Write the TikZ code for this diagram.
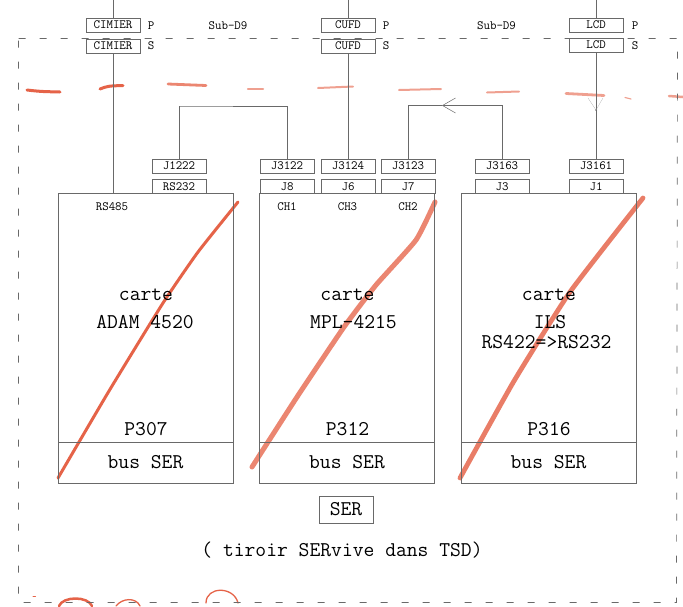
\documentclass[tikz,border=0pt]{standalone}
\usepackage{tikz}
\usetikzlibrary{arrows,arrows.meta,positioning}
\definecolor{pen}{RGB}{226,82,52}
\definecolor{trait}{RGB}{105,105,105}
\newcommand{\petit}{\fontsize{12.6}{14}\selectfont\ttfamily}
\newcommand{\grand}{\fontsize{21}{27}\selectfont\ttfamily}
\tikzset{conn/.style={rectangle,draw=trait,font=\petit,inner sep=0pt,minimum width=54pt,minimum height=14pt},
         lab/.style={font=\petit,inner sep=0pt,text=black},
         txt/.style={font=\grand,inner sep=0pt,text=black},
         carte/.style={rectangle,draw=trait,inner sep=0pt,minimum width=175pt,minimum height=249pt},
         bus/.style={rectangle,draw=trait,font=\grand,inner sep=0pt,minimum width=175pt,minimum height=41pt,text=black},
         fil/.style={draw=trait,line width=0.6pt},
         cadre/.style={draw=trait,line width=0.7pt,dash pattern=on 7pt off 14pt},
         stylo/.style={pen,line cap=round,opacity=0.9},
         trace/.style={pen,line cap=round,line width=2pt,opacity=0.55}
}
\begin{document}
\begin{tikzpicture}[x=1pt,y=-1pt]
      \useasboundingbox (0,0) rectangle (683,606);
      % traits au stylo
      \draw[stylo,line width=3pt] (27,90) .. controls (40,91.5) .. (60,92);
      \draw[stylo,line width=3pt] (100,89) .. controls (108,86) .. (123,85.5);
      \draw[trace,line width=2.8pt,opacity=0.7] (168,84) -- (206,85.5);
      \draw[trace,line width=2.5pt] (248,89) -- (263,89);
      \draw[trace] (318,88) -- (353,86.5);
      \draw[trace] (399,90) -- (441,89);
      \draw[trace] (487,92.5) -- (519,91.5);
      \draw[trace,line width=2.8pt] (566,93.5) -- (604,95.5);
      \draw[trace,line width=1.2pt] (625,97.5) -- (631,99);
      \draw[trace,line width=2.5pt] (669,96) -- (683,97);
      \draw[stylo,line width=3pt] plot[smooth,tension=0.3] coordinates {(58,478) (109,391) (163,303) (198,252) (238,202)};
      \draw[trace,line width=5pt,opacity=0.7] plot[smooth,tension=0.3] coordinates {(252,467) (297,397) (344,327) (376,285) (416,240) (435,202)};
      \draw[trace,line width=4.8pt,opacity=0.75] plot[smooth,tension=0.3] coordinates {(460,478) (514,381) (570,292) (643,198)};
      \draw[stylo,line width=2.5pt] (59,606) .. controls (63,596) and (88,596) .. (92,606);
      \draw[stylo,line width=1.3pt] (116,606) .. controls (122,598) and (136,597) .. (140,606);
      \draw[stylo,line width=1.3pt] (206,603) .. controls (206,586) and (234,586) .. (238,603);
      \draw[stylo,line width=1pt] (33,596) -- (35.5,596);
      % cadre
      \draw[cadre] (18.5,38.5) -- (677.5,38.5) -- (676.5,602.5) -- (18.5,602.5) -- cycle;
      % connecteurs du haut
      \node[conn] (cimierP) at (113,25) {CIMIER};
      \node[conn] (cimierS) at (113,46) {CIMIER};
      \node[conn] (cufdP) at (348,25) {CUFD};
      \node[conn] (cufdS) at (348,46) {CUFD};
      \node[conn] (lcdP) at (596,25) {LCD};
      \node[conn] (lcdS) at (596,45) {LCD};
      \node[lab] at (151,26) {P};
      \node[lab] at (151,46) {S};
      \node[lab] at (386,26) {P};
      \node[lab] at (386,46) {S};
      \node[lab] at (635,26) {P};
      \node[lab] at (635,46) {S};
      \node[lab] at (228,26) {Sub-D9};
      \node[lab] at (496.5,26) {Sub-D9};
      % cartes
      \node[carte] (adam) at (145.5,317.5) {};
      \node[carte] (mpl) at (347,317.5) {};
      \node[carte] (ils) at (548.5,317.5) {};
      \node[bus] (busA) at (145.5,462.5) {bus SER};
      \node[bus] (busB) at (347,462.5) {bus SER};
      \node[bus] (busC) at (548.5,462.5) {bus SER};
      % connecteurs des cartes
      \node[conn] (j1222) at (179,166) {J1222};
      \node[conn] (rs232) at (179,186.5) {RS232};
      \node[conn] (j3122) at (287,166) {J3122};
      \node[conn] (j8) at (287,186.5) {J8};
      \node[conn] (j3124) at (348,166) {J3124};
      \node[conn] (j6) at (348,186.5) {J6};
      \node[conn] (j3123) at (408,166) {J3123};
      \node[conn] (j7) at (408,186.5) {J7};
      \node[conn] (j3163) at (502,166) {J3163};
      \node[conn] (j3) at (502,186.5) {J3};
      \node[conn] (j3161) at (596,166) {J3161};
      \node[conn] (j1) at (596,186.5) {J1};
      \node[lab] at (112,207) {RS485};
      \node[lab] at (287,207) {CH1};
      \node[lab] at (347.5,207) {CH3};
      \node[lab] at (408,207) {CH2};
      % textes des cartes
      \node[txt] at (146,295) {carte};
      \node[txt] at (145,322) {ADAM 4520};
      \node[txt] at (347.5,295) {carte};
      \node[txt] at (353.5,322) {MPL-4215};
      \node[txt] at (549,295) {carte};
      \node[txt] at (550,322) {ILS};
      \node[txt] at (546.5,342) {RS422=>RS232};
      \node[txt] at (146,429.5) {P307};
      \node[txt] at (347.5,429.5) {P312};
      \node[txt] at (549,429) {P316};
      \node[conn,font=\grand,minimum height=27pt] (ser) at (346,509.5) {SER};
      \node[txt] at (342,550) {( tiroir SERvive dans TSD)};
      % liaisons
      \coordinate (hautA) at (113,0);
      \coordinate (hautB) at (348,0);
      \coordinate (hautC) at (596,0);
      \coordinate (milieu) at (442,105.5);
      \coordinate (pince) at (596,110);
      \draw[fil] (hautA) -- (cimierP);
      \draw[fil] (hautB) -- (cufdP);
      \draw[fil] (hautC) -- (lcdP);
      \draw[fil] (cimierS) -- (cimierS |- adam.north);
      \draw[fil] (cufdS) -- (j3124);
      \draw[fil] (lcdS) -- (j3161);
      \draw[fil] (j1222.north) |- (180,106) -| (j3122.north);
      \draw[fil,-{Straight Barb[length=13pt,width=15pt,line width=0.5pt]}] (j3163.north) |- (milieu);
      \draw[fil] (milieu) -| (j3123.north);
      \fill[trait] (pince) circle (1pt);
      \draw[draw=trait!60,very thin] (588,98) -- (pince) -- (603,98);
\end{tikzpicture}
\end{document}
